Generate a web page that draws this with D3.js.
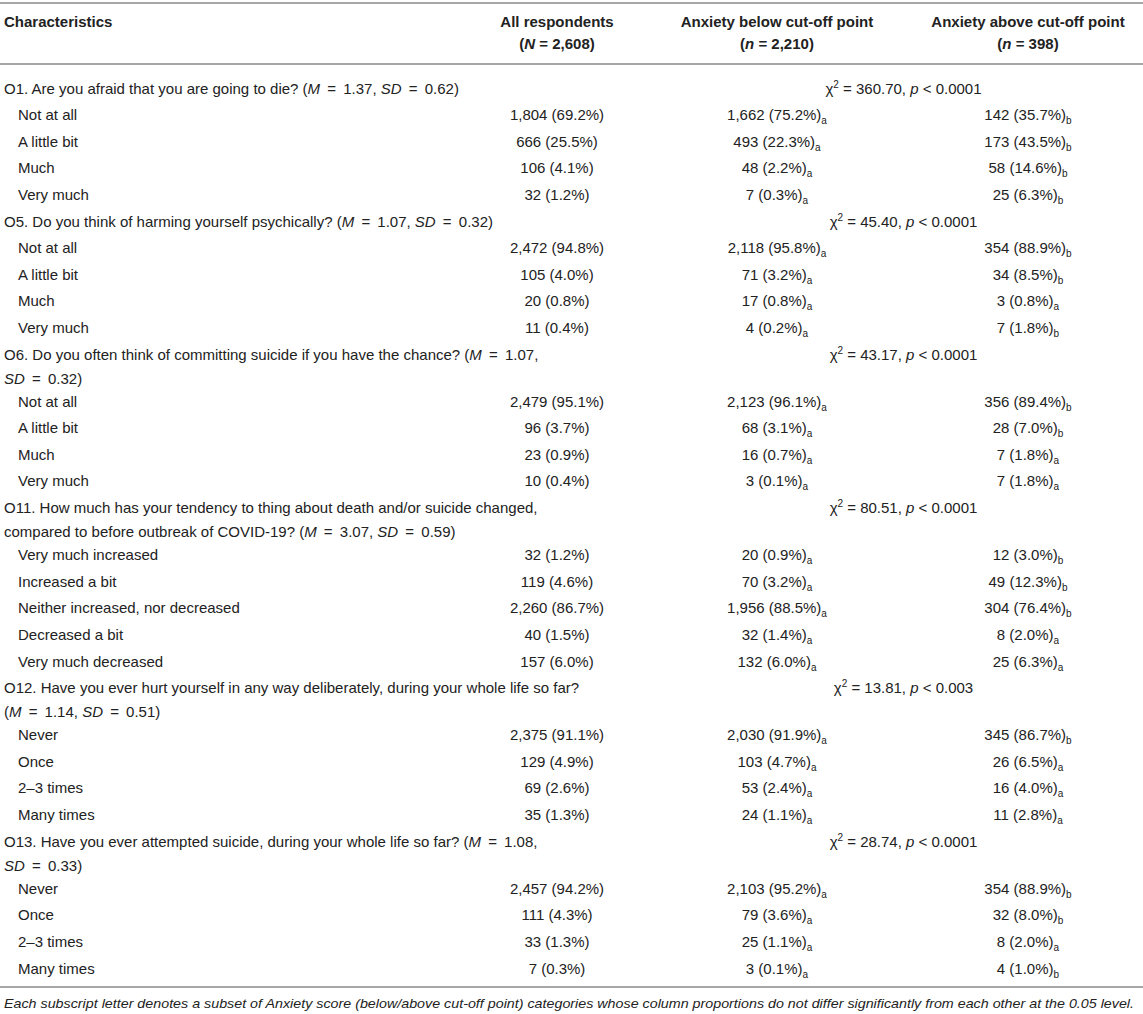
<!DOCTYPE html>
<html>
<head>
<meta charset="utf-8">
<script src="https://cdn.jsdelivr.net/npm/d3@7"></script>
<style>
  body { margin: 0; background: #fff; }
  svg text { font-family: "Liberation Sans", Arial, Helvetica, sans-serif; fill: #222; font-size: 15px; }
</style>
</head>
<body>
<div id="table"></div>
<script>
// ---- table data ----
var headTitles = ["All respondents", "Anxiety below cut-off point", "Anxiety above cut-off point"];
var headSymbols = ["N", "n", "n"];
var headSizes = [2608, 2210, 398];

var questionText = [
  "O1. Are you afraid that you are going to die?",
  "O5. Do you think of harming yourself psychically?",
  "O6. Do you often think of committing suicide if you have the chance?",
  "O11. How much has your tendency to thing about death and/or suicide changed, compared to before outbreak of COVID-19?",
  "O12. Have you ever hurt yourself in any way deliberately, during your whole life so far?",
  "O13. Have you ever attempted suicide, during your whole life so far?"
];
// words on the first line of a wrapped question (0 = fits on one line)
var questionBreak = [0, 0, 16, 13, 16, 15];
var questionM = [1.37, 1.07, 1.07, 3.07, 1.14, 1.08];
var questionSD = [0.62, 0.32, 0.32, 0.59, 0.51, 0.33];
var chiSquare = [360.70, 45.40, 43.17, 80.51, 13.81, 28.74];
var pLimit = ["0.0001", "0.0001", "0.0001", "0.0001", "0.003", "0.0001"];

var optionLabels = [
  ["Not at all", "A little bit", "Much", "Very much"],
  ["Not at all", "A little bit", "Much", "Very much"],
  ["Not at all", "A little bit", "Much", "Very much"],
  ["Very much increased", "Increased a bit", "Neither increased, nor decreased", "Decreased a bit", "Very much decreased"],
  ["Never", "Once", "2\u20133 times", "Many times"],
  ["Never", "Once", "2\u20133 times", "Many times"]
];

var allN = [[1804, 666, 106, 32], [2472, 105, 20, 11], [2479, 96, 23, 10], [32, 119, 2260, 40, 157], [2375, 129, 69, 35], [2457, 111, 33, 7]];
var allPct = [[69.2, 25.5, 4.1, 1.2], [94.8, 4.0, 0.8, 0.4], [95.1, 3.7, 0.9, 0.4], [1.2, 4.6, 86.7, 1.5, 6.0], [91.1, 4.9, 2.6, 1.3], [94.2, 4.3, 1.3, 0.3]];

var belowN = [[1662, 493, 48, 7], [2118, 71, 17, 4], [2123, 68, 16, 3], [20, 70, 1956, 32, 132], [2030, 103, 53, 24], [2103, 79, 25, 3]];
var belowPct = [[75.2, 22.3, 2.2, 0.3], [95.8, 3.2, 0.8, 0.2], [96.1, 3.1, 0.7, 0.1], [0.9, 3.2, 88.5, 1.4, 6.0], [91.9, 4.7, 2.4, 1.1], [95.2, 3.6, 1.1, 0.1]];
var belowSub = [["a", "a", "a", "a"], ["a", "a", "a", "a"], ["a", "a", "a", "a"], ["a", "a", "a", "a", "a"], ["a", "a", "a", "a"], ["a", "a", "a", "a"]];

var aboveN = [[142, 173, 58, 25], [354, 34, 3, 7], [356, 28, 7, 7], [12, 49, 304, 8, 25], [345, 26, 16, 11], [354, 32, 8, 4]];
var abovePct = [[35.7, 43.5, 14.6, 6.3], [88.9, 8.5, 0.8, 1.8], [89.4, 7.0, 1.8, 1.8], [3.0, 12.3, 76.4, 2.0, 6.3], [86.7, 6.5, 4.0, 2.8], [88.9, 8.0, 2.0, 1.0]];
var aboveSub = [["b", "b", "b", "b"], ["b", "b", "a", "b"], ["b", "b", "a", "a"], ["b", "b", "b", "a", "a"], ["b", "a", "a", "a"], ["b", "b", "a", "b"]];

var footnote = "Each subscript letter denotes a subset of Anxiety score (below/above cut-off point) categories whose column proportions do not differ significantly from each other at the 0.05 level.";

// ---- layout ----
var width = 1143, height = 1014;
var textX = 4, indentX = 18;
var rowH = 26.6, extraLine = 20.5, lineGap = 24;

var cols = ["all", "below", "above"];
var colX = d3.scaleOrdinal().domain(cols).range([557, 777, 1028]);
var chiX = (colX("below") + colX("above")) / 2 + 1;

var fmtN = d3.format(",");
var fmtP = d3.format(".1f");
var fmtC = d3.format(".2f");

var svg = d3.select("#table").append("svg")
  .attr("width", width)
  .attr("height", height);

function rule(y) {
  svg.append("line")
    .attr("x1", 0).attr("x2", width)
    .attr("y1", y).attr("y2", y)
    .attr("stroke", "#a6a6a6")
    .attr("stroke-width", 2);
}

// words are arrays of segments {t, i(talic), wide}
function addWords(textSel, words) {
  words.forEach(function (w, wi) {
    w.forEach(function (seg, si) {
      var t = (wi > 0 && si === 0 ? " " : "") + seg.t;
      var ts = textSel.append("tspan")
        .style("font-style", seg.i ? "italic" : null)
        .text(t);
      if (seg.wide) ts.attr("dx", 3);
    });
  });
}

// ---- header ----
rule(3);
svg.append("text")
  .attr("x", textX).attr("y", 27)
  .style("font-weight", "bold")
  .text("Characteristics");

cols.forEach(function (c, i) {
  svg.append("text")
    .attr("x", colX(c)).attr("y", 27)
    .attr("text-anchor", "middle")
    .style("font-weight", "bold")
    .text(headTitles[i]);
  var t = svg.append("text")
    .attr("x", colX(c)).attr("y", 49)
    .attr("text-anchor", "middle")
    .style("font-weight", "bold");
  t.append("tspan").text("(");
  t.append("tspan").style("font-style", "italic").text(headSymbols[i]);
  t.append("tspan").text(" = " + fmtN(headSizes[i]) + ")");
});
rule(64);

// ---- body ----
function valueCell(c, y, n, pct, sub) {
  var t = svg.append("text")
    .attr("x", colX(c)).attr("y", y)
    .attr("text-anchor", "middle");
  t.append("tspan").text(fmtN(n) + " (" + fmtP(pct) + "%)");
  if (sub) {
    t.append("tspan")
      .attr("dy", 4)
      .style("font-size", "10px")
      .text(sub);
  }
}

var y = 88;
questionText.forEach(function (q, qi) {
  var words = q.split(" ").map(function (w) { return [{ t: w }]; });
  words.push([{ t: "(" }, { t: "M", i: true }]);
  words.push([{ t: "=", wide: true }]);
  words.push([{ t: fmtC(questionM[qi]) + ",", wide: true }]);
  words.push([{ t: "SD", i: true }]);
  words.push([{ t: "=", wide: true }]);
  words.push([{ t: fmtC(questionSD[qi]) + ")", wide: true }]);

  var b = questionBreak[qi];
  var lines = b ? [words.slice(0, b), words.slice(b)] : [words];
  lines.forEach(function (ln, li) {
    var t = svg.append("text")
      .attr("x", textX)
      .attr("y", y + li * lineGap + 5.5);
    addWords(t, ln);
  });

  var chi = svg.append("text")
    .attr("x", chiX).attr("y", y + 5.5)
    .attr("text-anchor", "middle");
  chi.append("tspan").text("\u03c7");
  chi.append("tspan").attr("dy", -6).style("font-size", "10px").text("2");
  chi.append("tspan").attr("dy", 6).text(" = " + fmtC(chiSquare[qi]) + ", ");
  chi.append("tspan").style("font-style", "italic").text("p");
  chi.append("tspan").text(" < " + pLimit[qi]);

  y += rowH + (lines.length - 1) * extraLine;

  optionLabels[qi].forEach(function (lab, oi) {
    var by = y + 5.5;
    svg.append("text")
      .attr("x", indentX).attr("y", by)
      .text(lab);
    valueCell("all", by, allN[qi][oi], allPct[qi][oi], null);
    valueCell("below", by, belowN[qi][oi], belowPct[qi][oi], belowSub[qi][oi]);
    valueCell("above", by, aboveN[qi][oi], abovePct[qi][oi], aboveSub[qi][oi]);
    y += rowH;
  });
});

rule(987);

svg.append("text")
  .attr("x", textX).attr("y", 1008)
  .style("font-style", "italic")
  .style("font-size", "13.5px")
  .attr("textLength", 1130)
  .attr("lengthAdjust", "spacingAndGlyphs")
  .text(footnote);
</script>
</body>
</html>
